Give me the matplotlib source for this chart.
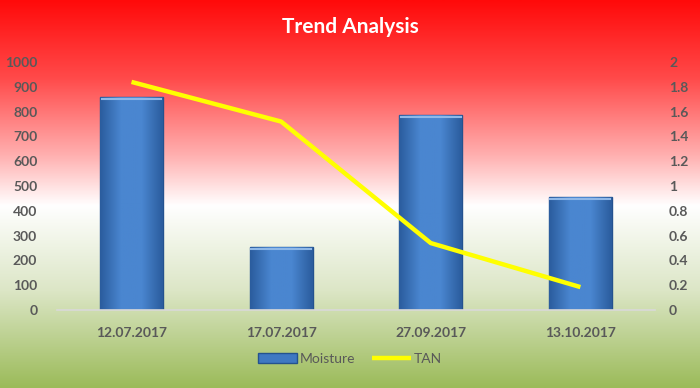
import numpy as np
import matplotlib.pyplot as plt
from matplotlib.colors import LinearSegmentedColormap

plt.rcParams["font.family"] = ["Lato", "DejaVu Sans"]

dates = ["12.07.2017", "17.07.2017", "27.09.2017", "13.10.2017"]
moisture = [860, 255, 785, 455]
tan = [1.84, 1.52, 0.54, 0.185]

fig = plt.figure(figsize=(7, 3.88), dpi=100)

# background gradient: red top -> white -> green bottom
bg = fig.add_axes([0, 0, 1, 1], zorder=-10)
cmap = LinearSegmentedColormap.from_list(
    "bg", [(0.0, "#ff0a0a"), (0.2, "#ff4a4a"), (0.4, "#ffb0b0"), (0.53, "#ffffff"),
           (0.75, "#dce6c6"), (1.0, "#9bbb59")])
grad = np.linspace(0, 1, 256).reshape(-1, 1)
bg.imshow(grad, aspect="auto", cmap=cmap, extent=[0, 1, 0, 1], origin="upper")
bg.set_axis_off()

ax = fig.add_axes([0.081, 0.201, 0.855, 0.639])
ax.patch.set_alpha(0)
x = np.arange(len(dates))
bars = ax.bar(x, moisture, width=0.42, color="#3f78c2", edgecolor="#24528f",
              linewidth=1.0, label="Moisture", zorder=2)

# bevel-like shading inside each bar
bar_cmap = LinearSegmentedColormap.from_list("bar", ["#2b5d9e", "#4a86d0", "#4a86d0", "#2b5d9e"])
hgrad = np.linspace(0, 1, 64).reshape(1, -1)
for b in bars:
    im = ax.imshow(hgrad, aspect="auto", cmap=bar_cmap,
                   extent=[b.get_x(), b.get_x() + b.get_width(), 0, b.get_height()], zorder=2.5)
    im.set_clip_path(b)
    ax.plot([b.get_x() + 0.01, b.get_x() + b.get_width() - 0.01], [b.get_height() - 7] * 2,
            color="#8fb8e8", linewidth=1.5, zorder=2.6)

ax.set_xlim(-0.5, 3.5)
ax.set_ylim(0, 1000)
ax.set_yticks(range(0, 1001, 100))
ax.set_xticks(x)
ax.set_xticklabels(dates)
for s in ["top", "left", "right"]:
    ax.spines[s].set_visible(False)
ax.spines["bottom"].set_color("#d9d9d9")
ax.spines["bottom"].set_linewidth(1.2)
ax.tick_params(axis="y", length=0, pad=14, labelsize=10, labelcolor="#595959")
ax.tick_params(axis="x", length=0, pad=12, labelsize=10, labelcolor="#595959")
for lab in ax.get_xticklabels() + ax.get_yticklabels():
    lab.set_fontweight("bold")

ax2 = ax.twinx()
ax2.patch.set_alpha(0)
line, = ax2.plot(x, tan, color="#ffff00", linewidth=3.2, label="TAN", zorder=3,
                 solid_capstyle="butt")
ax2.set_ylim(0, 2)
ax2.set_yticks(np.arange(0, 2.01, 0.2))
ax2.set_yticklabels(["0", "0.2", "0.4", "0.6", "0.8", "1", "1.2", "1.4", "1.6", "1.8", "2"])
for s in ["top", "left", "right", "bottom"]:
    ax2.spines[s].set_visible(False)
ax2.tick_params(axis="y", length=0, pad=10, labelsize=10, labelcolor="#595959")
for lab in ax2.get_yticklabels():
    lab.set_fontweight("bold")

fig.text(0.5, 0.93, "Trend Analysis", ha="center", va="center", color="white",
         fontsize=15, fontweight="bold")

fig.legend([bars, line], ["Moisture", "TAN"], loc="center", bbox_to_anchor=(0.5, 0.075),
           ncol=2, frameon=False, fontsize=10, labelcolor="#595959",
           handlelength=2.8, handletextpad=0.2, columnspacing=1.2)

fig.savefig("out.png", dpi=100)
